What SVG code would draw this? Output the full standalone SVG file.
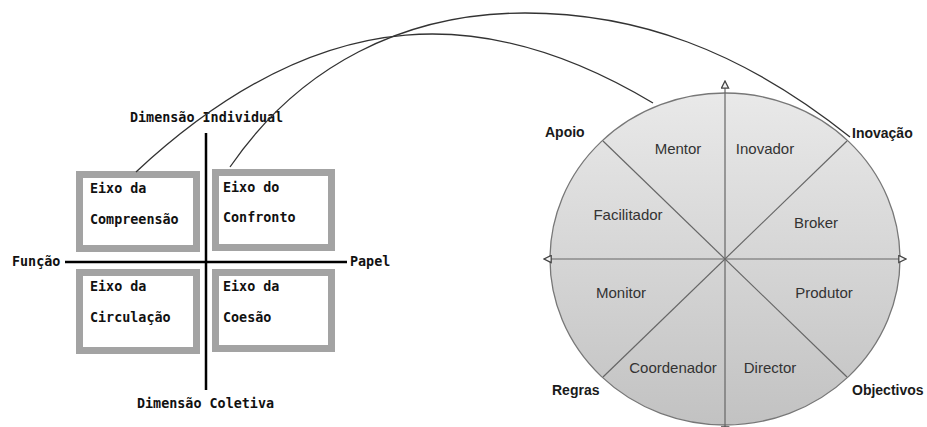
<svg xmlns="http://www.w3.org/2000/svg" width="927" height="427" viewBox="0 0 927 427">
<style>
.mono{font-family:"DejaVu Sans Mono","Liberation Mono",monospace;font-size:13.4px;font-weight:bold;fill:#111}
.box{fill:#fff;stroke:#a3a3a3;stroke-width:7}
.axis{stroke:#000;stroke-width:2.5}
.role{font-family:"Liberation Sans",Arial,sans-serif;font-size:15px;fill:#333;text-anchor:middle}
.pole{font-family:"Liberation Sans",Arial,sans-serif;font-size:14px;font-weight:bold;fill:#1a1a1a}
.cline{stroke:#666;stroke-width:1.2;fill:none}
.arc{stroke:#333;stroke-width:1.3;fill:none}
</style>
<defs>
<linearGradient id="g" x1="0" y1="0" x2="0" y2="1">
<stop offset="0" stop-color="#e9e9e9"/>
<stop offset="1" stop-color="#c2c2c2"/>
</linearGradient>
<marker id="ah" viewBox="0 0 10 10" refX="9" refY="5" markerWidth="9" markerHeight="9" orient="auto-start-reverse" markerUnits="userSpaceOnUse">
<path d="M1,1 L9,5 L1,9 Z" fill="#f4f4f4" stroke="#444" stroke-width="1.4"/>
</marker>
</defs>
<rect width="927" height="427" fill="#fff"/>

<g id="quadrant-axes">
<line class="axis" x1="206" y1="133" x2="206" y2="390"/>
<line class="axis" x1="65" y1="262" x2="347" y2="262"/>
<text class="mono" x="130" y="122">Dimensão Individual</text>
<text class="mono" x="137" y="408">Dimensão Coletiva</text>
<text class="mono" x="12" y="266">Função</text>
<text class="mono" x="350" y="266">Papel</text>
</g>

<g id="eixo-compreensao">
<rect class="box" x="79.5" y="174.5" width="117" height="74"/>
<text class="mono" x="90" y="193">Eixo da</text>
<text class="mono" x="90" y="224">Compreensão</text>
</g>
<g id="eixo-confronto">
<rect class="box" x="215.5" y="172.5" width="116" height="75"/>
<text class="mono" x="223" y="192">Eixo do</text>
<text class="mono" x="223" y="222">Confronto</text>
</g>
<g id="eixo-circulacao">
<rect class="box" x="79.5" y="272.5" width="117" height="78"/>
<text class="mono" x="90" y="291">Eixo da</text>
<text class="mono" x="90" y="322">Circulação</text>
</g>
<g id="eixo-coesao">
<rect class="box" x="215.5" y="272.5" width="116" height="76"/>
<text class="mono" x="223" y="291">Eixo da</text>
<text class="mono" x="223" y="322">Coesão</text>
</g>

<g id="roles-circle">
<ellipse cx="725" cy="259" rx="175" ry="166" fill="url(#g)" stroke="#777" stroke-width="1.3"/>
<line class="cline" x1="603" y1="141" x2="847" y2="377"/>
<line class="cline" x1="847" y1="141" x2="603" y2="377"/>
<line class="cline" x1="725" y1="259" x2="544" y2="259" marker-end="url(#ah)"/>
<line class="cline" x1="725" y1="259" x2="906" y2="259" marker-end="url(#ah)"/>
<line class="cline" x1="725" y1="259" x2="725" y2="81" marker-end="url(#ah)"/>
<line class="cline" x1="725" y1="259" x2="725" y2="434" marker-end="url(#ah)"/>
<text class="role" x="678" y="154">Mentor</text>
<text class="role" x="765" y="154">Inovador</text>
<text class="role" x="628" y="220">Facilitador</text>
<text class="role" x="816" y="228">Broker</text>
<text class="role" x="621" y="298">Monitor</text>
<text class="role" x="824" y="298">Produtor</text>
<text class="role" x="673" y="373">Coordenador</text>
<text class="role" x="770" y="373">Director</text>
</g>

<g id="poles">
<text class="pole" x="545" y="137">Apoio</text>
<text class="pole" x="852" y="138">Inovação</text>
<text class="pole" x="552" y="395">Regras</text>
<text class="pole" x="852" y="395">Objectivos</text>
</g>

<g id="connectors">
<path class="arc" d="M136,172 C326,-5 493,7 653,103"/>
<path class="arc" d="M230,167 C300,65 405,13 525,13 C635,13 740,49 850,137"/>
</g>
</svg>
